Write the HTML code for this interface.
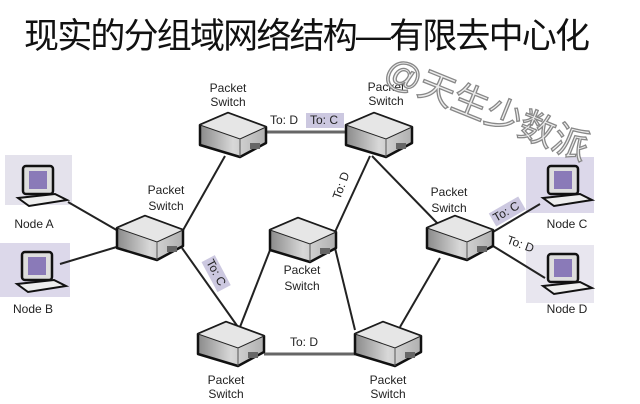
<!DOCTYPE html>
<html><head><meta charset="utf-8"><style>
html,body{margin:0;padding:0;background:#fff;}
svg{display:block;}
text{font-family:"Liberation Sans","Noto Sans CJK SC",sans-serif;}
</style></head><body>
<svg width="640" height="404" viewBox="0 0 640 404" xmlns="http://www.w3.org/2000/svg">
<defs>
<linearGradient id="fr" x1="0" x2="1"><stop offset="0" stop-color="#8a8a8a"/><stop offset="0.5" stop-color="#d8d8d8"/><stop offset="1" stop-color="#b0b0b0"/></linearGradient>
<g id="sw">
<polygon points="0,12 28,0 66,14 66,30 40,44 0,32" fill="url(#fr)" stroke="#111" stroke-width="2.5" stroke-linejoin="round"/>
<polygon points="0,12 28,0 66,14 40,26" fill="#e6e6e6" stroke="#222" stroke-width="1"/>
<line x1="40" y1="26" x2="40" y2="44" stroke="#555" stroke-width="1"/>
<rect x="50" y="30" width="10" height="6" fill="#666"/>
</g>
<g id="pc">
<rect x="8" y="4" width="30" height="28" rx="3" fill="#ddd" stroke="#111" stroke-width="2.5"/>
<rect x="14" y="9" width="18" height="18" fill="#8a7ab8"/>
<polygon points="3,36 40,32 52,38 14,44" fill="#eee" stroke="#111" stroke-width="2"/>
</g>
</defs>
<text x="24" y="48" font-size="35" fill="#111" textLength="566">现实的分组域网络结构—有限去中心化</text>
<!-- node backgrounds -->
<rect x="5" y="155" width="67" height="50" fill="#e4e2ec"/>
<rect x="0" y="243" width="70" height="54" fill="#dcd8ea"/>
<rect x="526" y="157" width="68" height="56" fill="#dcd8ea"/>
<rect x="526" y="245" width="68" height="58" fill="#e8e6ef"/>
<!-- lines -->
<g stroke="#222" stroke-width="2" fill="none">
<line x1="68" y1="202" x2="120" y2="232"/>
<line x1="60" y1="264" x2="120" y2="246"/>
<line x1="182" y1="232" x2="225" y2="156"/>
<line x1="182" y1="248" x2="238" y2="327"/>
<line x1="266" y1="132" x2="346" y2="132" stroke="#666" stroke-width="3"/>
<line x1="370" y1="156" x2="335" y2="232"/>
<line x1="372" y1="156" x2="440" y2="226"/>
<line x1="272" y1="245" x2="240" y2="327"/>
<line x1="335" y1="248" x2="355" y2="330"/>
<line x1="440" y1="258" x2="400" y2="327"/>
<line x1="264" y1="354" x2="355" y2="354" stroke="#666" stroke-width="3"/>
<line x1="493" y1="232" x2="540" y2="204"/>
<line x1="493" y1="246" x2="545" y2="278"/>
</g>
<!-- switches -->
<use href="#sw" x="200" y="113"/>
<use href="#sw" x="346" y="113"/>
<use href="#sw" x="117" y="216"/>
<use href="#sw" x="270" y="218"/>
<use href="#sw" x="427" y="216"/>
<use href="#sw" x="198" y="322"/>
<use href="#sw" x="355" y="322"/>
<!-- computers -->
<use href="#pc" x="15" y="162"/>
<use href="#pc" x="14" y="248"/>
<use href="#pc" x="540" y="162"/>
<use href="#pc" x="540" y="250"/>
<g font-size="12" fill="#222" text-anchor="middle">
<text x="228" y="92">Packet</text><text x="228" y="106">Switch</text>
<text x="386" y="91">Packet</text><text x="386" y="105">Switch</text>
<text x="166" y="194">Packet</text><text x="166" y="210">Switch</text>
<text x="302" y="274">Packet</text><text x="302" y="290">Switch</text>
<text x="449" y="196">Packet</text><text x="449" y="212">Switch</text>
<text x="226" y="384">Packet</text><text x="226" y="398">Switch</text>
<text x="388" y="384">Packet</text><text x="388" y="398">Switch</text>
<text x="34" y="228">Node A</text>
<text x="33" y="313">Node B</text>
<text x="567" y="228">Node C</text>
<text x="567" y="313">Node D</text>
</g>
<rect x="306" y="113" width="38" height="15" fill="#ccc8e0"/>
<g font-size="12" fill="#222">
<text x="270" y="124">To: D</text>
<text x="310" y="124">To: C</text>
<text x="290" y="346">To: D</text>
<text transform="translate(340,200) rotate(-70)">To: D</text>
<g transform="translate(206,262) rotate(62)"><rect x="-2" y="-11" width="34" height="15" fill="#ccc8e0"/><text x="0" y="0">To: C</text></g>
<g transform="translate(496,222) rotate(-30)"><rect x="-2" y="-11" width="34" height="15" fill="#ccc8e0"/><text x="0" y="0">To: C</text></g>
<text transform="translate(506,243) rotate(20)">To: D</text>
</g>
<text transform="translate(382,80) rotate(22)" font-size="36" fill="#eeeeee" stroke="#888" stroke-width="1.3">@天生少数派</text>
</svg>
</body></html>
